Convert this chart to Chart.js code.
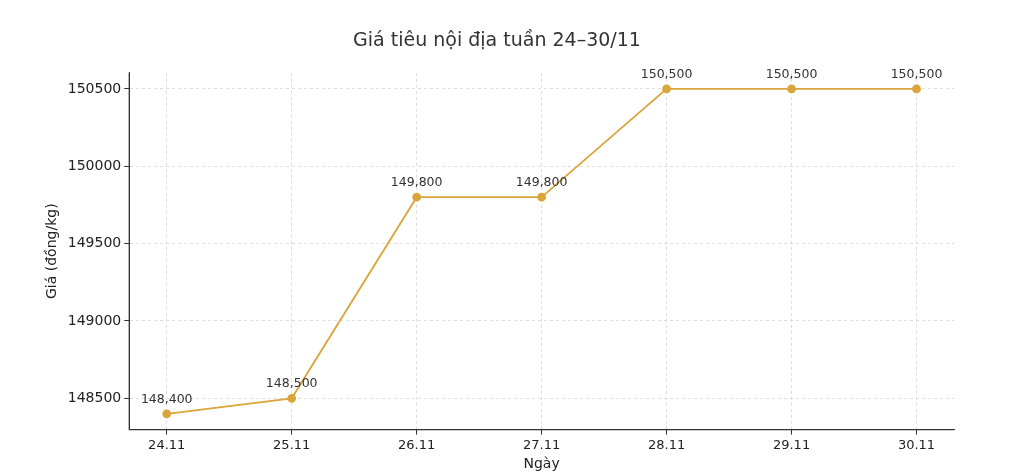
<!DOCTYPE html>
<html><head><meta charset="utf-8">
<script src="https://cdn.jsdelivr.net/npm/chart.js@4"></script>
<style>html,body{margin:0;background:#fff}#w{width:1024px;height:475px}</style>
</head><body><div id="w"><canvas id="c"></canvas></div>
<script>
const categories=["24.11","25.11","26.11","27.11","28.11","29.11","30.11"];
const prices=[148400,148500,149800,149800,150500,150500,150500];
const yTicks=[148500,149000,149500,150000,150500];
const font="DejaVu Sans";
const labelPlugin={id:'lbl',afterDatasetsDraw(ch){const c=ch.ctx;const m=ch.getDatasetMeta(0);c.save();c.font='12.5px '+font;c.fillStyle='#333';c.textAlign='center';c.textBaseline='bottom';
m.data.forEach((p,i)=>c.fillText(prices[i].toLocaleString('en-US'),p.x,p.y-8));c.restore();}};
new Chart(document.getElementById('c'),{type:'line',
data:{datasets:[{data:prices.map((v,i)=>({x:i,y:v})),borderColor:'#DAA53A',backgroundColor:'#DAA53A',borderWidth:1.8,pointRadius:3.5,tension:0}]},
options:{responsive:true,maintainAspectRatio:false,animation:false,
layout:{padding:{left:40,right:70,top:16,bottom:2}},
plugins:{legend:{display:false},tooltip:{enabled:false},
title:{display:true,text:'Giá tiêu nội địa tuần 24–30/11',color:'#333',font:{family:font,size:19,weight:'normal'},padding:{top:14,bottom:20}}},
scales:{x:{type:'linear',min:-0.3,max:6.3,afterBuildTicks(s){s.ticks=categories.map((_,i)=>({value:i}));},
ticks:{callback:(v)=>categories[v],color:'#222',font:{family:font,size:13}},
grid:{color:'#ddd',tickColor:'#333',tickLength:5,drawOnChartArea:true},border:{color:'#333',dash:[3,3],display:true},
title:{display:true,text:'Ngày',color:'#222',font:{family:font,size:14},padding:0}},
y:{min:148298,max:150604,afterBuildTicks(s){s.ticks=yTicks.map(v=>({value:v}));},
ticks:{callback:(v)=>String(v),color:'#222',font:{family:font,size:14}},
grid:{color:'#ddd',tickColor:'#333',tickLength:5},border:{color:'#333',dash:[3,3]},
title:{display:true,text:'Giá (đồng/kg)',color:'#222',font:{family:font,size:14}}}}},
plugins:[labelPlugin,{id:'ax',afterDraw(ch){const a=ch.chartArea,c=ch.ctx;c.save();c.strokeStyle='#333';c.lineWidth=1.2;c.beginPath();c.moveTo(a.left,a.top);c.lineTo(a.left,a.bottom);c.lineTo(a.right,a.bottom);c.stroke();c.restore();}}]});
</script></body></html>
